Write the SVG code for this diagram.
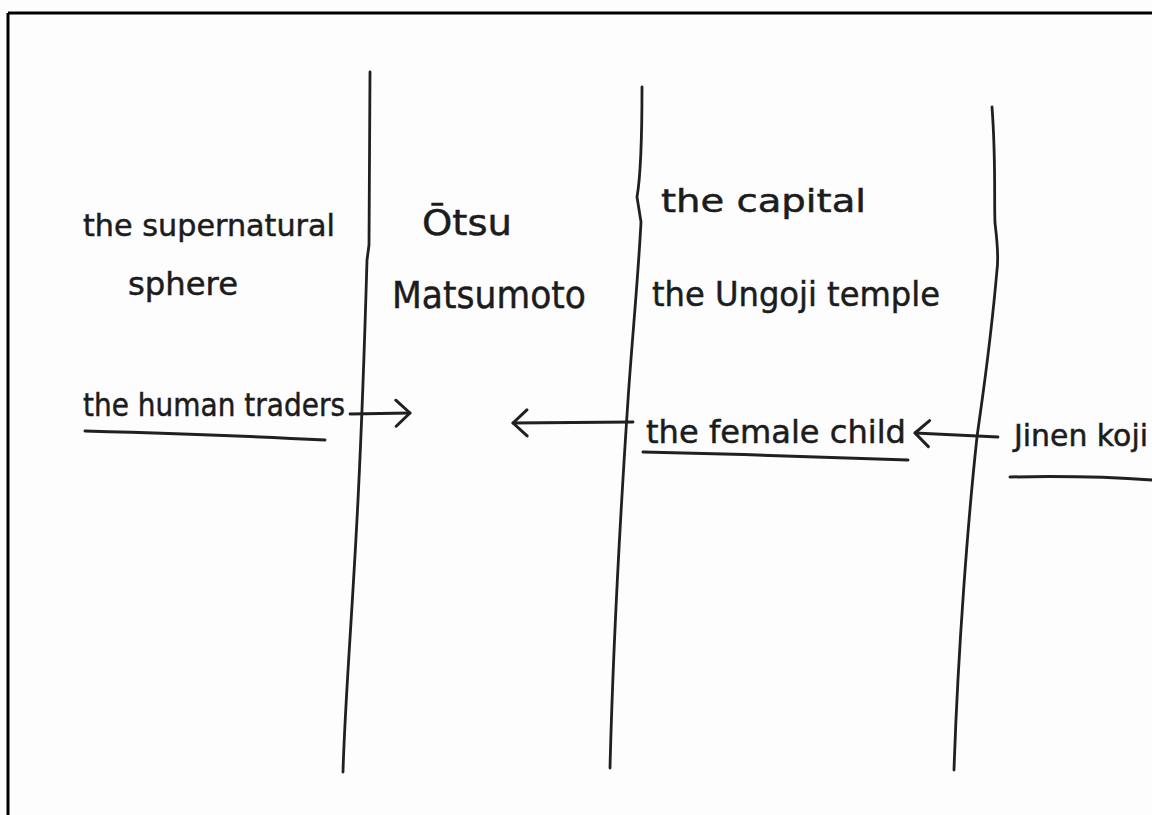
<svg xmlns="http://www.w3.org/2000/svg" width="1152" height="815" viewBox="0 0 1152 815">
<defs>
<style>
.t{font-family:"DejaVu Sans","Liberation Sans",sans-serif;fill:#1c1c1c;stroke:#1c1c1c;stroke-width:0.5;}
.div{fill:none;stroke:#202020;stroke-width:2.8;stroke-linecap:round;stroke-linejoin:round;}
.ul{fill:none;stroke:#202020;stroke-width:3;stroke-linecap:round;}
.arr{fill:none;stroke:#202020;stroke-width:2.8;stroke-linecap:round;marker-end:url(#open);}
</style>
<marker id="open" viewBox="0 0 20 32" refX="18" refY="16" markerWidth="20" markerHeight="32" markerUnits="userSpaceOnUse" orient="auto">
<path d="M4,3 L18,16 L4,29" fill="none" stroke="#202020" stroke-width="3" stroke-linecap="round" stroke-linejoin="round"/>
</marker>
</defs>
<rect x="0" y="0" width="1152" height="815" fill="#fdfdfd"/>
<g id="frame">
<path d="M8,13 L1152,13 M8,13 L8,815" fill="none" stroke="#000" stroke-width="3"/>
</g>
<g id="dividers">
<path class="div" d="M370,72 C370,150 369,220 369,245 L367,260 C365,330 362,420 358,500 C352,620 345,700 343,772"/>
<path class="div" d="M642,87 C642,140 640,180 637,197 L641,222 C638,280 632,340 628,400 C620,520 613,650 610,768"/>
<path class="div" d="M992,107 C996,160 994,200 995,223 C997,240 999,255 997,270 C990,350 982,400 977,437 C968,520 958,650 954,770"/>
</g>
<g id="supernatural">
<text class="t" x="83" y="236" font-size="30" textLength="252" lengthAdjust="spacingAndGlyphs">the supernatural</text>
<text class="t" x="128" y="295" font-size="32" textLength="110" lengthAdjust="spacingAndGlyphs">sphere</text>
</g>
<g id="otsu">
<text class="t" x="422" y="235" font-size="36" textLength="90" lengthAdjust="spacingAndGlyphs">Ōtsu</text>
<text class="t" x="392" y="308" font-size="38" textLength="194" lengthAdjust="spacingAndGlyphs">Matsumoto</text>
</g>
<g id="capital">
<text class="t" x="661" y="212" font-size="32" textLength="205" lengthAdjust="spacingAndGlyphs">the capital</text>
<text class="t" x="652" y="306" font-size="34" textLength="288" lengthAdjust="spacingAndGlyphs">the Ungoji temple</text>
</g>
<g id="human-traders">
<text class="t" x="83" y="416" font-size="32" textLength="262" lengthAdjust="spacingAndGlyphs">the human traders</text>
<path class="ul" d="M85,431 C160,433 250,436 325,440"/>
</g>
<g id="female-child">
<text class="t" x="646" y="443" font-size="32" textLength="260" lengthAdjust="spacingAndGlyphs">the female child</text>
<path class="ul" d="M643,452 C730,454 830,457 908,460"/>
</g>
<g id="jinen-koji">
<text class="t" x="1014" y="446" font-size="30" textLength="134" lengthAdjust="spacingAndGlyphs">Jinen koji</text>
<path class="ul" d="M1010,477 C1060,476 1110,477 1152,480"/>
</g>
<g id="connectors">
<path class="arr" d="M350,414 L410,413"/>
<path class="arr" d="M633,422 L513,423"/>
<path class="arr" d="M998,437 L915,433"/>
</g>
</svg>
